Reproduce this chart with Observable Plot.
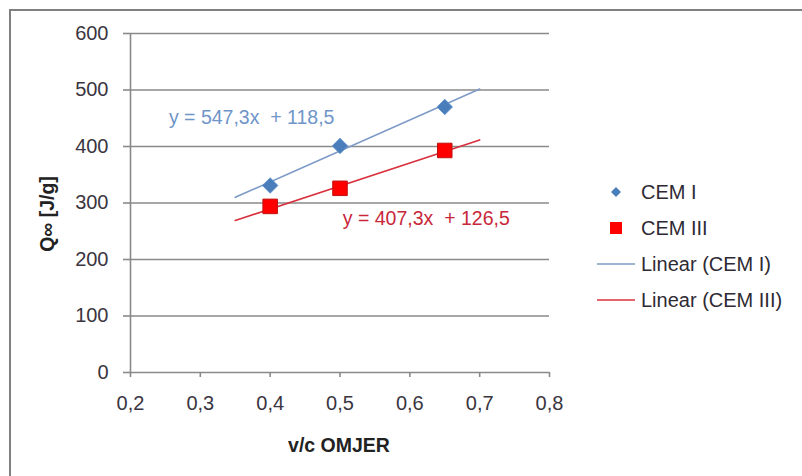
<!DOCTYPE html>
<html>
<head>
<meta charset="utf-8">
<script src="https://cdn.jsdelivr.net/npm/d3@7"></script>
<script src="https://cdn.jsdelivr.net/npm/@observablehq/plot@0.6"></script>
<style>
  html, body { margin: 0; padding: 0; background: #fff; }
  #chart { position: relative; width: 802px; height: 476px; overflow: hidden;
           font-family: "Liberation Sans", Arial, sans-serif; color: #333; }
  #chart > svg { position: absolute; left: 0; top: 0; }
  .frame { position: absolute; left: 9px; top: 9px; right: -10px; bottom: -10px;
           border-left: 2px solid #808080; border-top: 2px solid #808080; pointer-events: none; }
  .ytitle { position: absolute; left: 47px; top: 214px; font-weight: bold; font-size: 19.5px;
            transform: translate(-50%, -50%) rotate(-90deg); white-space: nowrap; color: #222; }
  .xtitle { position: absolute; left: 339px; top: 445px; font-weight: bold; font-size: 19.5px;
            transform: translate(-50%, -50%); white-space: nowrap; color: #222; }
  .legend { position: absolute; left: 597px; top: 174px; font-size: 20px; color: #2e2a33; }
  .legend .row { display: flex; align-items: center; height: 36px; }
  .legend .key { display: block; width: 38px; height: 20px; margin-right: 6px; flex: none; }
</style>
</head>
<body>
<div id="chart">
  <div class="frame"></div>
</div>
<script>
// v/c ratio and heat of hydration Q∞ for the two cement types
const vcRatio = [0.4, 0.5, 0.65];
const qCemI = [331, 401, 470];
const qCemIII = [294, 326, 393];

const seriesNames = ["CEM I", "CEM III"];
const markerColors = ["#4a7ebb", "#ff0000"];
const lineColors = ["#7d9bc6", "#d8303c"];
const labelColors = ["#6f95c9", "#c8283a"];

// Linear trend lines: slope and intercept, drawn over this x range
const trendSlopes = [547.3, 407.3];
const trendIntercepts = [118.5, 126.5];
const trendRange = [0.35, 0.70];
// where each equation label sits, in data units (left end of text)
const labelX = [0.255, 0.504];
const labelY = [451, 272];

const xTicks = [0.2, 0.3, 0.4, 0.5, 0.6, 0.7, 0.8];
const yTicks = [0, 100, 200, 300, 400, 500, 600];

const comma = (v, d) => v.toFixed(d).replace(".", ",");

const points = seriesNames.flatMap((name, s) =>
  vcRatio.map((x, i) => ({series: name, x, y: (s === 0 ? qCemI : qCemIII)[i]}))
);
const trends = seriesNames.flatMap((name, s) =>
  trendRange.map(x => ({series: name, x, y: trendSlopes[s] * x + trendIntercepts[s]}))
);
const equations = seriesNames.map((name, s) => ({
  series: name,
  x: labelX[s],
  y: labelY[s],
  text: `y = ${comma(trendSlopes[s], 1)}x\u00a0 + ${comma(trendIntercepts[s], 1)}`,
  color: labelColors[s]
}));

const gridColor = "#8a8a8a";

const plot = Plot.plot({
  width: 802,
  height: 476,
  marginLeft: 130,
  marginRight: 253,
  marginTop: 33,
  marginBottom: 104,
  style: {fontFamily: "'Liberation Sans', Arial, sans-serif", fontSize: "20px", background: "transparent", overflow: "visible"},
  x: {domain: [0.2, 0.8], label: null},
  y: {domain: [0, 600], label: null},
  marks: [
    Plot.gridY(yTicks.filter(t => t > 0), {stroke: gridColor, strokeOpacity: 1, strokeWidth: 1.6}),
    Plot.ruleY([0], {stroke: gridColor, strokeWidth: 1.6}),
    Plot.ruleX([0.2], {stroke: gridColor, strokeWidth: 1.6}),
    Plot.axisY({ticks: yTicks, tickSize: 7, tickPadding: 15, stroke: gridColor, strokeWidth: 1.6, fill: "#3a3540", label: null}),
    Plot.axisX({ticks: xTicks, tickSize: 5, tickPadding: 18, stroke: gridColor, strokeWidth: 1.6, fill: "#3a3540",
                tickFormat: d => comma(d, 1), label: null}),
    ...seriesNames.map((name, s) =>
      Plot.line(trends.filter(d => d.series === name), {x: "x", y: "y", stroke: lineColors[s], strokeWidth: 1.6})
    ),
    Plot.dot(points.filter(d => d.series === seriesNames[0]),
      {x: "x", y: "y", symbol: "diamond2", r: 7, fill: markerColors[0], stroke: "#5f8fcf", strokeWidth: 0.8}),
    Plot.dot(points.filter(d => d.series === seriesNames[1]),
      {x: "x", y: "y", symbol: "square", r: 8.2, fill: markerColors[1], stroke: "#c01010", strokeWidth: 1}),
    Plot.text(equations, {x: "x", y: "y", text: "text", fill: "color", textAnchor: "start", fontSize: 19.5})
  ]
});

const chart = document.getElementById("chart");
chart.insertBefore(plot, chart.firstChild);

// axis titles
const yTitle = document.createElement("div");
yTitle.className = "ytitle";
yTitle.textContent = "Q∞ [J/g]";
chart.appendChild(yTitle);
const xTitle = document.createElement("div");
xTitle.className = "xtitle";
xTitle.textContent = "v/c OMJER";
chart.appendChild(xTitle);

// legend: markers, then trend lines
const legend = document.createElement("div");
legend.className = "legend";
const ns = "http://www.w3.org/2000/svg";
const entries = [
  ...seriesNames.map((name, s) => ({label: name, kind: s === 0 ? "diamond" : "square", color: markerColors[s]})),
  ...seriesNames.map((name, s) => ({label: `Linear (${name})`, kind: "line", color: lineColors[s]}))
];
for (const e of entries) {
  const row = document.createElement("div");
  row.className = "row";
  const key = document.createElementNS(ns, "svg");
  key.setAttribute("class", "key");
  key.setAttribute("width", 38);
  key.setAttribute("height", 20);
  let shape;
  if (e.kind === "diamond") {
    shape = document.createElementNS(ns, "path");
    shape.setAttribute("d", "M19,5 L24,10 L19,15 L14,10 Z");
    shape.setAttribute("fill", e.color);
  } else if (e.kind === "square") {
    shape = document.createElementNS(ns, "rect");
    shape.setAttribute("x", 13); shape.setAttribute("y", 4);
    shape.setAttribute("width", 12); shape.setAttribute("height", 12);
    shape.setAttribute("fill", e.color);
  } else {
    shape = document.createElementNS(ns, "line");
    shape.setAttribute("x1", 0); shape.setAttribute("x2", 38);
    shape.setAttribute("y1", 10); shape.setAttribute("y2", 10);
    shape.setAttribute("stroke", e.color);
    shape.setAttribute("stroke-width", 1.6);
  }
  key.appendChild(shape);
  row.appendChild(key);
  const span = document.createElement("span");
  span.textContent = e.label;
  row.appendChild(span);
  legend.appendChild(row);
}
chart.appendChild(legend);
</script>
</body>
</html>
